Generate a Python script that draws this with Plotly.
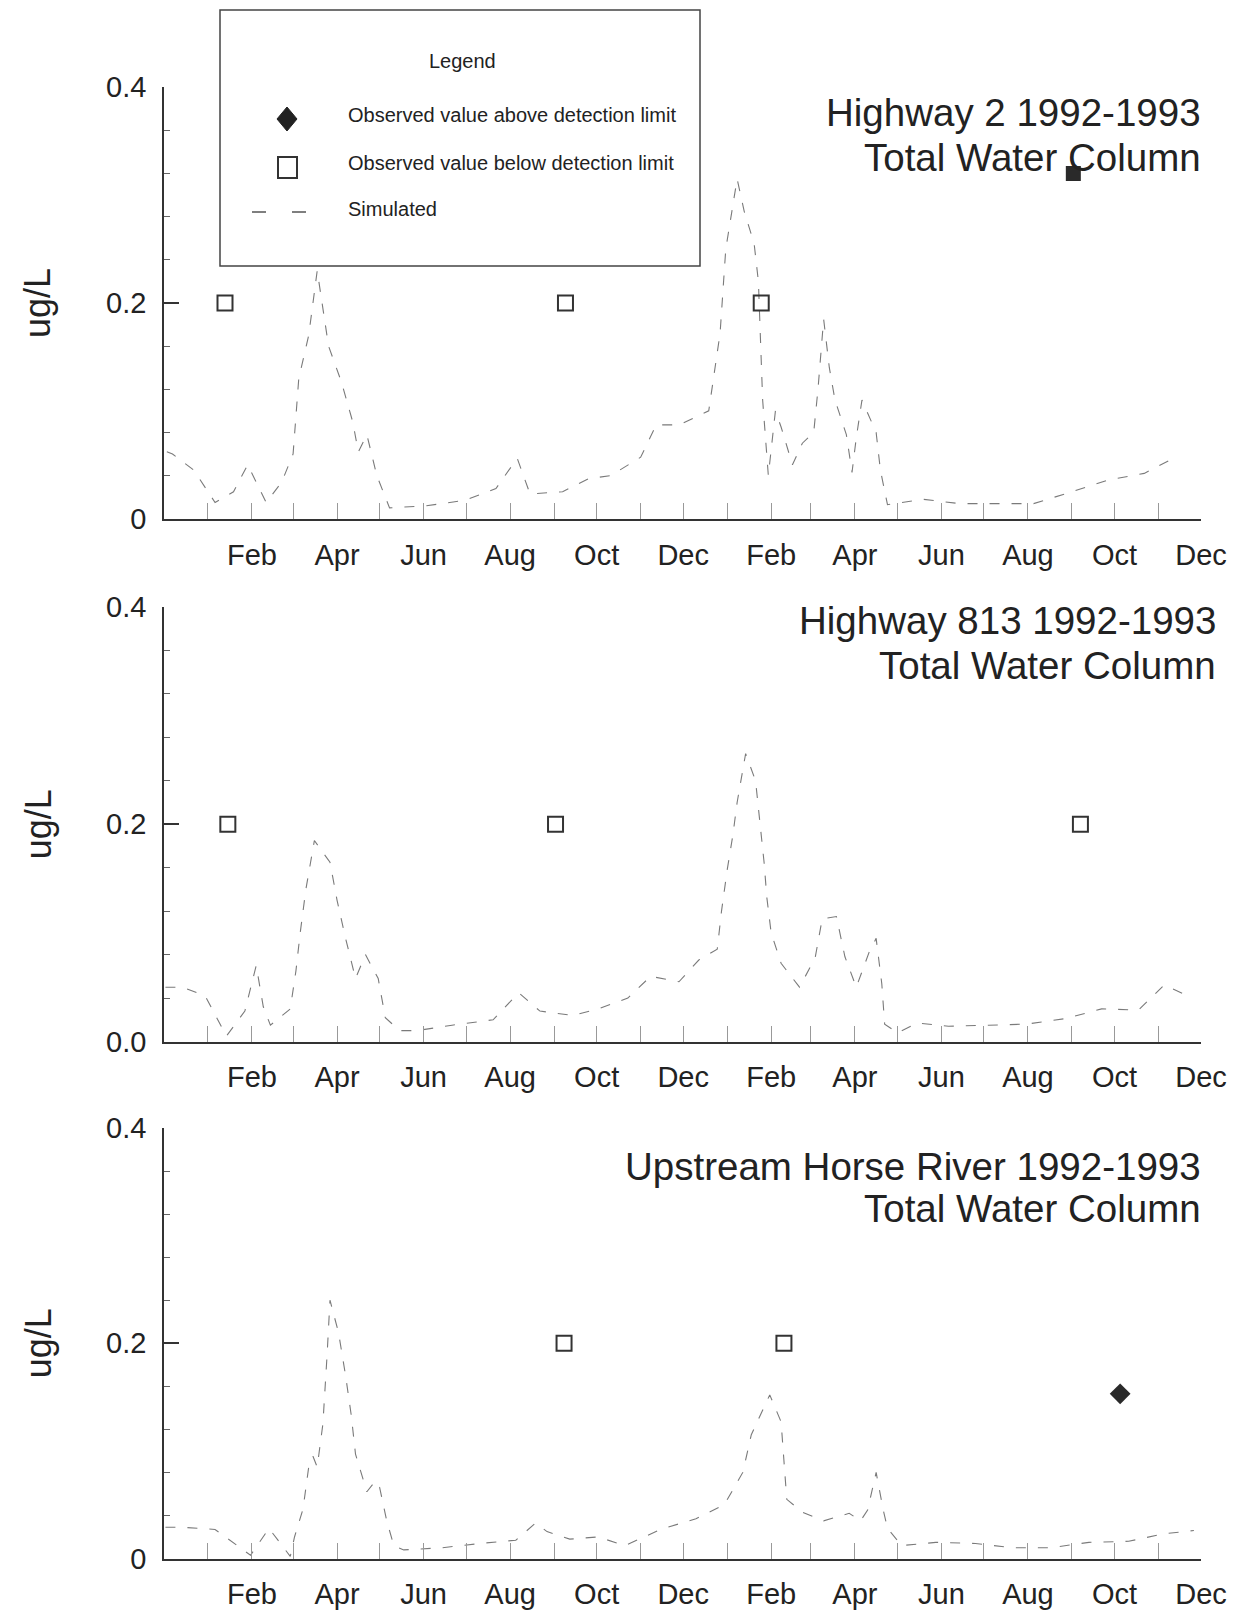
import plotly.graph_objects as go

W, H = 1250, 1610
OFF = 0  # page body margin is removed below, so the figure fills the window
FONT = "Liberation Sans, Arial, sans-serif"

# ---------------- data ----------------
month_ticks = ["1992-%02d-01" % m for m in range(1, 13)] + ["1993-%02d-01" % m for m in range(1, 13)]
month_text = ["", "Feb", "", "Apr", "", "Jun", "", "Aug", "", "Oct", "", "Dec"] * 2

y_tickvals = [0, 0.2, 0.4]
hw2_ytext = ["0", "0.2", "0.4"]
hw813_ytext = ["0.0", "0.2", "0.4"]
horse_ytext = ["0", "0.2", "0.4"]

hw2_sim_dates = ["1991-12-03", "1991-12-07", "1991-12-22", "1992-01-06", "1992-01-19", "1992-01-29",
                 "1992-02-11", "1992-02-22", "1992-03-01", "1992-03-05", "1992-03-12", "1992-03-18",
                 "1992-03-26", "1992-04-04", "1992-04-12", "1992-04-16", "1992-04-22", "1992-04-29",
                 "1992-05-08", "1992-06-03", "1992-06-30", "1992-07-22", "1992-08-06", "1992-08-15",
                 "1992-09-07", "1992-09-25", "1992-10-11", "1992-11-01", "1992-11-12", "1992-11-28",
                 "1992-12-19", "1992-12-23", "1992-12-27", "1992-12-31", "1993-01-05", "1993-01-08",
                 "1993-01-13", "1993-01-20", "1993-01-23", "1993-01-25", "1993-01-26", "1993-01-30",
                 "1993-02-04", "1993-02-08", "1993-02-16", "1993-02-23", "1993-03-03", "1993-03-06",
                 "1993-03-10", "1993-03-14", "1993-03-18", "1993-03-26", "1993-03-30", "1993-04-02",
                 "1993-04-06", "1993-04-16", "1993-04-19", "1993-04-24", "1993-05-19", "1993-06-14",
                 "1993-07-09", "1993-08-05", "1993-09-01", "1993-09-27", "1993-10-22", "1993-11-10"]
hw2_sim_vals = [0.062, 0.06, 0.045, 0.015, 0.025, 0.05,
                0.015, 0.034, 0.06, 0.13, 0.17, 0.23,
                0.16, 0.127, 0.09, 0.062, 0.078, 0.04,
                0.01, 0.012, 0.017, 0.028, 0.056, 0.023,
                0.025, 0.037, 0.04, 0.057, 0.087, 0.087,
                0.1, 0.135, 0.172, 0.25, 0.29, 0.315,
                0.285, 0.255, 0.22, 0.145, 0.11, 0.04,
                0.1, 0.085, 0.05, 0.07, 0.08, 0.12,
                0.185, 0.14, 0.11, 0.078, 0.043, 0.075,
                0.11, 0.08, 0.045, 0.013, 0.018, 0.014,
                0.014, 0.014, 0.025, 0.036, 0.042, 0.055]
hw2_below_dates = ["1992-01-13", "1992-09-09", "1993-01-25"]
hw2_below_vals = [0.2, 0.2, 0.2]
hw2_above_dates = ["1993-09-02"]
hw2_above_vals = [0.32]

hw813_sim_dates = ["1991-12-02", "1991-12-14", "1991-12-30", "1992-01-14", "1992-01-27", "1992-02-04",
                   "1992-02-09", "1992-02-14", "1992-02-28", "1992-03-03", "1992-03-06", "1992-03-10",
                   "1992-03-16", "1992-03-27", "1992-04-01", "1992-04-07", "1992-04-14", "1992-04-21",
                   "1992-04-30", "1992-05-05", "1992-05-15", "1992-05-27", "1992-06-21", "1992-07-20",
                   "1992-08-07", "1992-08-22", "1992-09-14", "1992-10-02", "1992-10-23", "1992-11-08",
                   "1992-11-28", "1992-12-12", "1992-12-25", "1992-12-28", "1993-01-01", "1993-01-05",
                   "1993-01-08", "1993-01-14", "1993-01-21", "1993-01-24", "1993-01-27", "1993-01-29",
                   "1993-02-01", "1993-02-08", "1993-02-21", "1993-03-04", "1993-03-09", "1993-03-19",
                   "1993-03-25", "1993-04-02", "1993-04-11", "1993-04-16", "1993-04-20", "1993-04-22",
                   "1993-05-01", "1993-05-15", "1993-06-06", "1993-07-04", "1993-07-31", "1993-08-27",
                   "1993-09-22", "1993-10-18", "1993-11-05", "1993-11-25"]
hw813_sim_vals = [0.05, 0.05, 0.042, 0.005, 0.028, 0.07,
                  0.032, 0.015, 0.03, 0.065, 0.1, 0.14,
                  0.185, 0.165, 0.13, 0.095, 0.058, 0.08,
                  0.058, 0.022, 0.01, 0.01, 0.015, 0.02,
                  0.045, 0.028, 0.024, 0.03, 0.04, 0.06,
                  0.055, 0.075, 0.085, 0.12, 0.158, 0.19,
                  0.22, 0.265, 0.24, 0.205, 0.165, 0.132,
                  0.1, 0.072, 0.05, 0.077, 0.113, 0.115,
                  0.078, 0.05, 0.082, 0.095, 0.053, 0.016,
                  0.008, 0.017, 0.014, 0.015, 0.016, 0.021,
                  0.03, 0.029, 0.052, 0.04]
hw813_below_dates = ["1992-01-15", "1992-09-02", "1993-09-07"]
hw813_below_vals = [0.2, 0.2, 0.2]

horse_sim_dates = ["1991-12-02", "1991-12-14", "1992-01-06", "1992-01-31", "1992-02-13", "1992-02-28",
                   "1992-03-02", "1992-03-08", "1992-03-12", "1992-03-15", "1992-03-18", "1992-03-22",
                   "1992-03-25", "1992-03-27", "1992-04-02", "1992-04-07", "1992-04-11", "1992-04-14",
                   "1992-04-22", "1992-04-28", "1992-05-01", "1992-05-06", "1992-05-11", "1992-05-18",
                   "1992-06-14", "1992-07-11", "1992-08-05", "1992-08-15", "1992-08-19", "1992-08-27",
                   "1992-09-12", "1992-10-02", "1992-10-21", "1992-11-15", "1992-12-10", "1992-12-30",
                   "1993-01-12", "1993-01-18", "1993-01-31", "1993-02-08", "1993-02-10", "1993-02-12",
                   "1993-02-23", "1993-03-10", "1993-03-28", "1993-04-05", "1993-04-10", "1993-04-16",
                   "1993-04-21", "1993-04-24", "1993-05-04", "1993-05-28", "1993-06-25", "1993-07-21",
                   "1993-08-17", "1993-09-13", "1993-10-11", "1993-11-05", "1993-11-26"]
horse_sim_vals = [0.029, 0.029, 0.027, 0.003, 0.028, 0.002,
                  0.02, 0.046, 0.085, 0.095, 0.085, 0.125,
                  0.19, 0.24, 0.21, 0.17, 0.133, 0.097,
                  0.062, 0.072, 0.066, 0.035, 0.012, 0.008,
                  0.01, 0.014, 0.017, 0.028, 0.033, 0.025,
                  0.018, 0.02, 0.012, 0.027, 0.037, 0.05,
                  0.08, 0.115, 0.152, 0.127, 0.092, 0.055,
                  0.043, 0.035, 0.042, 0.035, 0.045, 0.08,
                  0.045, 0.028, 0.012, 0.015, 0.014, 0.01,
                  0.01, 0.015, 0.016, 0.023, 0.026]
horse_below_dates = ["1992-09-08", "1993-02-10"]
horse_below_vals = [0.2, 0.2]
horse_above_dates = ["1993-10-05"]
horse_above_vals = [0.153]

titles = [("Highway 2 1992-1993", "Total Water Column"),
          ("Highway 813 1992-1993", "Total Water Column"),
          ("Upstream Horse River 1992-1993", "Total Water Column")]

legend_title = "Legend"
legend_labels = ["Observed value above detection limit",
                 "Observed value below detection limit",
                 "Simulated"]

# ---------------- layout geometry (page pixels) ----------------
def px(x):
    return (x - OFF) / W


def py(y):
    return 1 - (y - OFF) / H


X_LEFT, X_RIGHT = 164, 1201
panel_px = [(87.3, 518.7), (607.0, 1041.5), (1128.0, 1558.5)]  # (0.4 level, 0 level)
title_px = [((1203, 113), (1203, 157)), ((1218, 620), (1218, 665)), ((1203, 1166), (1203, 1208))]

fig = go.Figure()

sim_x = [hw2_sim_dates, hw813_sim_dates, horse_sim_dates]
sim_y = [hw2_sim_vals, hw813_sim_vals, horse_sim_vals]
below_x = [hw2_below_dates, hw813_below_dates, horse_below_dates]
below_y = [hw2_below_vals, hw813_below_vals, horse_below_vals]
above = [(hw2_above_dates, hw2_above_vals, "square"), None, (horse_above_dates, horse_above_vals, "diamond")]
ytexts = [hw2_ytext, hw813_ytext, horse_ytext]

for i in range(3):
    k = "" if i == 0 else str(i + 1)
    xa, ya = "x" + k, "y" + k
    fig.add_trace(go.Scatter(x=sim_x[i], y=sim_y[i], mode="lines", xaxis=xa, yaxis=ya,
                             line=dict(color="#7a7a7a", width=1.1, dash="10px,12px"),
                             name=legend_labels[2], showlegend=False))
    fig.add_trace(go.Scatter(x=below_x[i], y=below_y[i], mode="markers", xaxis=xa, yaxis=ya,
                             marker=dict(symbol="square-open", size=15, color="#333",
                                         line=dict(width=2, color="#333")),
                             name=legend_labels[1], showlegend=False))
    if above[i] is not None:
        ax, ay, sym = above[i]
        fig.add_trace(go.Scatter(x=ax, y=ay, mode="markers", xaxis=xa, yaxis=ya,
                                 marker=dict(symbol=sym, size=16 if sym == "diamond" else 15,
                                             color="#2a2a2a", line=dict(width=0)),
                                 name=legend_labels[0], showlegend=False))

    top, bot = panel_px[i]
    fig.layout["xaxis" + k] = dict(
        domain=[px(X_LEFT), px(X_RIGHT)], anchor=ya, type="date",
        range=["1991-12-01", "1993-12-01"],
        tickmode="array", tickvals=month_ticks, ticktext=month_text,
        ticks="inside", ticklen=16, tickwidth=1, tickcolor="#999",
        showline=True, linecolor="#333", linewidth=2,
        showgrid=False, zeroline=False, automargin=False,
        tickfont=dict(family=FONT, size=29, color="#222"),
        ticklabelstandoff=9,
    )
    fig.layout["yaxis" + k] = dict(
        domain=[py(bot), py(top)], anchor=xa, range=[0, 0.4],
        tickmode="array", tickvals=y_tickvals, ticktext=ytexts[i],
        ticks="inside", ticklen=15, tickwidth=1.5, tickcolor="#333",
        minor=dict(tickmode="linear", tick0=0, dtick=0.04, ticks="inside",
                   ticklen=6, tickwidth=1, tickcolor="#666"),
        showline=True, linecolor="#333", linewidth=1.5,
        showgrid=False, zeroline=False, automargin=False,
        tickfont=dict(family=FONT, size=29, color="#222"),
        ticklabelstandoff=10,
    )

    # titles
    for j, line in enumerate(titles[i]):
        tx, ty = title_px[i][j]
        fig.add_annotation(text=line, x=px(tx), y=py(ty), xref="paper", yref="paper",
                           xanchor="right", yanchor="middle", showarrow=False,
                           font=dict(family=FONT, size=38.5, color="#222"))
    # y axis title
    fig.add_annotation(text="ug/L", x=px(38), y=0.2, xref="paper", yref=ya,
                       textangle=-90, xanchor="center", yanchor="middle", showarrow=False,
                       font=dict(family=FONT, size=36, color="#222"))

# ---------------- legend box (top panel) ----------------
shapes = [
    dict(type="rect", xref="paper", yref="paper", x0=px(220), x1=px(700), y0=py(266), y1=py(10),
         line=dict(color="#444", width=1.5), fillcolor="rgba(0,0,0,0)"),
    dict(type="path", xref="paper", yref="paper",
         path="M %f,%f L %f,%f L %f,%f L %f,%f Z" % (px(287), py(107), px(297), py(119),
                                                     px(287), py(131), px(277), py(119)),
         line=dict(color="#222", width=1), fillcolor="#222"),
    dict(type="rect", xref="paper", yref="paper", x0=px(278), x1=px(297), y0=py(178), y1=py(157),
         line=dict(color="#333", width=2), fillcolor="rgba(0,0,0,0)"),
    dict(type="line", xref="paper", yref="paper", x0=px(252), x1=px(308), y0=py(212), y1=py(212),
         line=dict(color="#555", width=1.5, dash="14px,26px")),
]
fig.update_layout(shapes=shapes)

fig.add_annotation(text=legend_title, x=px(462), y=py(61), xref="paper", yref="paper",
                   xanchor="center", yanchor="middle", showarrow=False,
                   font=dict(family=FONT, size=20, color="#222"))
for lbl, yy in zip(legend_labels, [115, 163, 209]):
    fig.add_annotation(text=lbl, x=px(346), y=py(yy), xref="paper", yref="paper",
                       xanchor="left", yanchor="middle", showarrow=False,
                       font=dict(family=FONT, size=20, color="#222"))

fig.update_layout(
    width=W, height=H,
    margin=dict(l=0, r=0, t=0, b=0),
    paper_bgcolor="white", plot_bgcolor="white",
    showlegend=False,
    font=dict(family=FONT, color="#222"),
)

fig.write_html("out.html",
               config={"displayModeBar": False},
               post_script="document.body.style.margin='0px';document.body.style.overflow='hidden';")
